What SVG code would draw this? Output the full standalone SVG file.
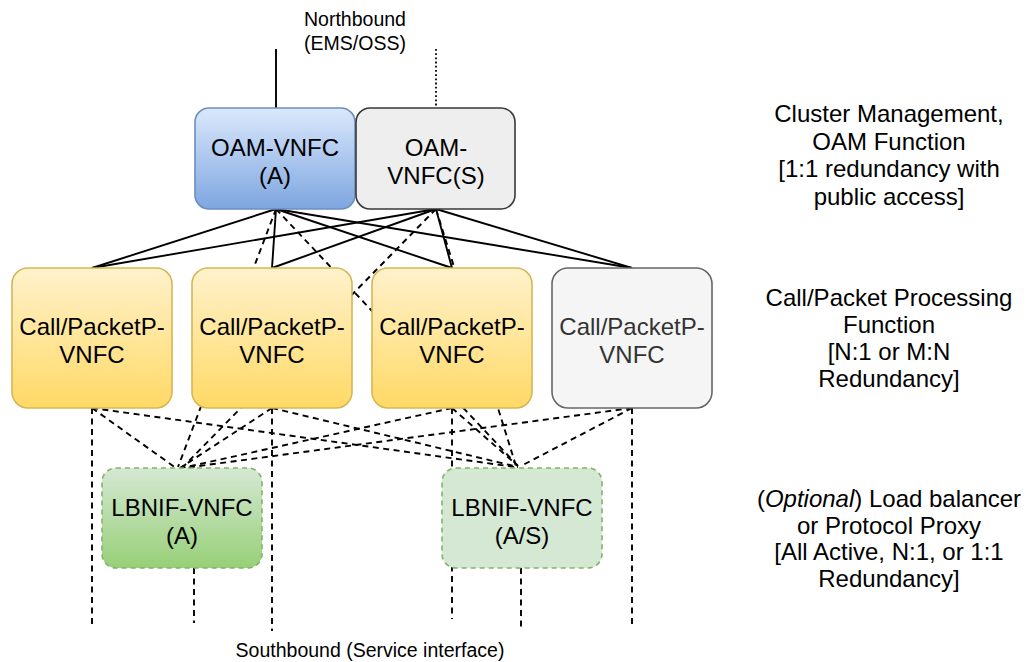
<svg xmlns="http://www.w3.org/2000/svg" width="1027" height="662" viewBox="0 0 1027 662">
<defs>
  <linearGradient id="gBlue" x1="0" y1="0" x2="0" y2="1">
    <stop offset="0" stop-color="#dae8fc"/><stop offset="1" stop-color="#7ea6e0"/>
  </linearGradient>
  <linearGradient id="gYellow" x1="0" y1="0" x2="0" y2="1">
    <stop offset="0" stop-color="#fff2cc"/><stop offset="1" stop-color="#ffd966"/>
  </linearGradient>
  <linearGradient id="gGreen" x1="0" y1="0" x2="0" y2="1">
    <stop offset="0" stop-color="#d5e8d4"/><stop offset="1" stop-color="#97d077"/>
  </linearGradient>
  <style>
    .t{font-family:"Liberation Sans",Arial,Helvetica,sans-serif;font-size:24px;fill:#000;text-anchor:middle}
    .s{font-size:19.5px}
    .solid{stroke:#000;stroke-width:1.9;fill:none}
    .dash{stroke:#000;stroke-width:1.9;fill:none;stroke-dasharray:6 4.5}
    .dot{stroke:#000;stroke-width:1.8;fill:none;stroke-dasharray:1.8 2.4}
    .blue{fill:url(#gBlue);stroke:#6c8ebf;stroke-width:1.6}
    .gray{fill:#eeeeee;stroke:#36393d;stroke-width:1.6}
    .yellow{fill:url(#gYellow);stroke:#d6b656;stroke-width:1.6}
    .lgray{fill:#f5f5f5;stroke:#666666;stroke-width:1.6}
    .green{fill:url(#gGreen);stroke:#82b366;stroke-width:1.6;stroke-dasharray:5 4}
    .lgreen{fill:#d5e8d4;stroke:#82b366;stroke-width:1.6;stroke-dasharray:5 4}
  </style>
</defs>
<rect x="0" y="0" width="1027" height="662" fill="#ffffff"/>

<g id="connectors">
  <line class="solid" x1="276" y1="49" x2="276" y2="108"/>
  <line class="dot" x1="436" y1="49" x2="436" y2="107"/>
  <line class="solid" x1="276" y1="209" x2="92" y2="268"/>
  <line class="solid" x1="276" y1="209" x2="272" y2="268"/>
  <line class="solid" x1="276" y1="209" x2="452" y2="268"/>
  <line class="solid" x1="276" y1="209" x2="632" y2="268"/>
  <line class="solid" x1="436" y1="209" x2="92" y2="268"/>
  <line class="solid" x1="436" y1="209" x2="272" y2="268"/>
  <line class="solid" x1="436" y1="209" x2="452" y2="268"/>
  <line class="solid" x1="436" y1="209" x2="632" y2="268"/>
  <line class="dash" x1="276" y1="209" x2="178" y2="467"/>
  <line class="dash" x1="276" y1="209" x2="518" y2="466"/>
  <line class="dash" x1="436" y1="209" x2="182" y2="468"/>
  <line class="dash" x1="436" y1="209" x2="516" y2="466"/>
  <line class="dash" x1="92" y1="408" x2="92" y2="628"/>
  <line class="dash" x1="272" y1="408" x2="272" y2="631"/>
  <line class="dash" x1="452" y1="408" x2="452" y2="619"/>
  <line class="dash" x1="632" y1="408" x2="632" y2="628"/>
  <line class="dash" x1="194" y1="568" x2="194" y2="623"/>
  <line class="dash" x1="521" y1="568" x2="521" y2="628"/>
  <line class="dash" x1="92" y1="408" x2="176" y2="468"/>
  <line class="dash" x1="92" y1="408" x2="515" y2="467"/>
  <line class="dash" x1="272" y1="408" x2="180" y2="468"/>
  <line class="dash" x1="272" y1="408" x2="518" y2="467"/>
  <line class="dash" x1="452" y1="408" x2="182" y2="468"/>
  <line class="dash" x1="452" y1="408" x2="518" y2="466"/>
  <line class="dash" x1="632" y1="408" x2="184" y2="468"/>
  <line class="dash" x1="632" y1="408" x2="521" y2="466"/>
</g>

<g id="oam-a">
  <rect class="blue" x="195" y="108" width="160" height="101" rx="14"/>
  <text class="t" x="275" y="156">OAM-VNFC</text>
  <text class="t" x="275" y="184">(A)</text>
</g>
<g id="oam-s">
  <rect class="gray" x="356" y="108" width="159" height="101" rx="14"/>
  <text class="t" x="436" y="156">OAM-</text>
  <text class="t" x="436" y="184">VNFC(S)</text>
</g>
<g id="call1">
  <rect class="yellow" x="12" y="268" width="160" height="140" rx="16"/>
  <text class="t" x="92" y="335">Call/PacketP-</text>
  <text class="t" x="92" y="363">VNFC</text>
</g>
<g id="call2">
  <rect class="yellow" x="192" y="268" width="160" height="140" rx="16"/>
  <text class="t" x="272" y="335">Call/PacketP-</text>
  <text class="t" x="272" y="363">VNFC</text>
</g>
<g id="call3">
  <rect class="yellow" x="372" y="268" width="160" height="140" rx="16"/>
  <text class="t" x="452" y="335">Call/PacketP-</text>
  <text class="t" x="452" y="363">VNFC</text>
</g>
<g id="call4">
  <rect class="lgray" x="552" y="268" width="160" height="140" rx="16"/>
  <text class="t" x="632" y="335" style="fill:#333333">Call/PacketP-</text>
  <text class="t" x="632" y="363" style="fill:#333333">VNFC</text>
</g>
<g id="lbnif-a">
  <rect class="green" x="102" y="468" width="160" height="100" rx="14"/>
  <text class="t" x="182" y="516">LBNIF-VNFC</text>
  <text class="t" x="182" y="544">(A)</text>
</g>
<g id="lbnif-as">
  <rect class="lgreen" x="442" y="468" width="160" height="100" rx="14"/>
  <text class="t" x="522" y="516">LBNIF-VNFC</text>
  <text class="t" x="522" y="544">(A/S)</text>
</g>

<g id="labels">
  <text class="t s" x="355" y="26">Northbound</text>
  <text class="t s" x="355" y="50">(EMS/OSS)</text>
  <text class="t s" x="370" y="657">Southbound (Service interface)</text>
  <text class="t" x="889" y="122">Cluster Management,</text>
  <text class="t" x="889" y="149.5">OAM Function</text>
  <text class="t" x="889" y="177">[1:1 redundancy with</text>
  <text class="t" x="889" y="204.5">public access]</text>
  <text class="t" x="889" y="306">Call/Packet Processing</text>
  <text class="t" x="889" y="333">Function</text>
  <text class="t" x="889" y="360">[N:1 or M:N</text>
  <text class="t" x="889" y="387">Redundancy]</text>
  <text class="t" x="889" y="507">(<tspan font-style="italic">Optional</tspan>) Load balancer</text>
  <text class="t" x="889" y="533.7">or Protocol Proxy</text>
  <text class="t" x="889" y="560.3">[All Active, N:1, or 1:1</text>
  <text class="t" x="889" y="587">Redundancy]</text>
</g>
</svg>
